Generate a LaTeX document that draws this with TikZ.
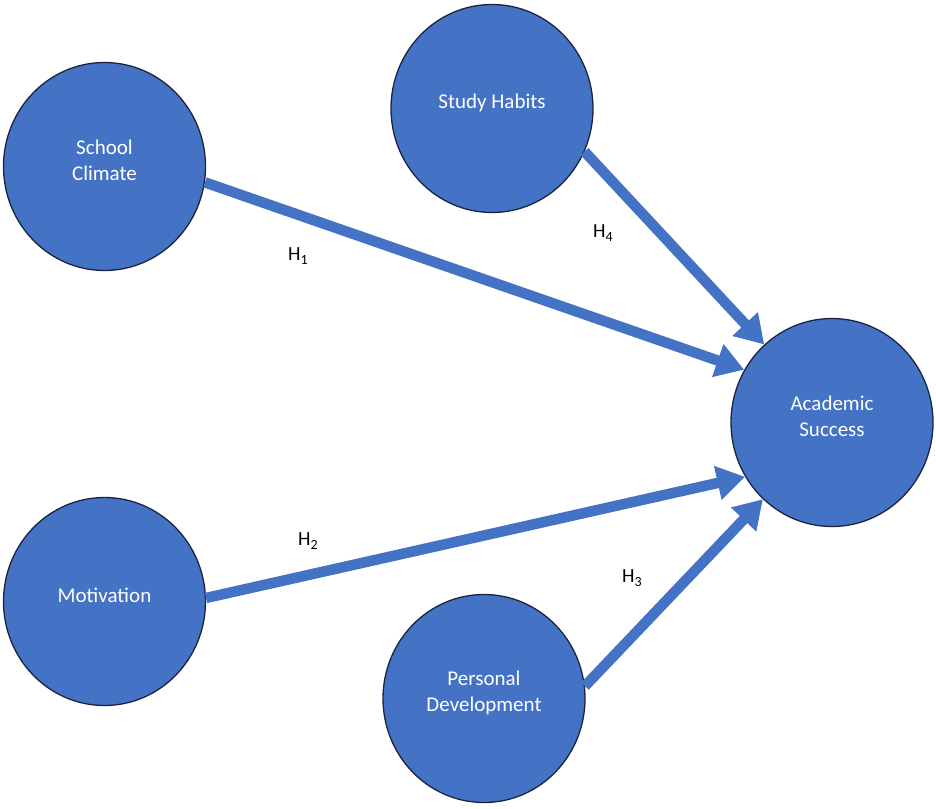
\documentclass[tikz,border=0pt]{standalone}
\usepackage{fontspec}
\setmainfont{Carlito}
\usetikzlibrary{arrows.meta,shapes.geometric}
\definecolor{fillblue}{HTML}{4472C4}
\definecolor{edgeblue}{HTML}{1A2440}
\begin{document}
\begin{tikzpicture}[x=1pt,y=-1pt,
  construct/.style={ellipse, draw=edgeblue, line width=1.3pt, fill=fillblue,
    minimum width=202pt, minimum height=208pt, inner sep=0pt},
  ctext/.style={text=white, align=center, yshift=6pt,
    font=\fontsize{21}{26}\selectfont},
  path/.style={draw=fillblue, line width=10.5pt,
    -{Triangle[length=28pt,width=33pt]}},
  hyp/.style={anchor=base west, inner sep=0pt, font=\fontsize{20}{24}\selectfont}
]
\useasboundingbox (0,0) rectangle (936,808);
\node[construct, label={[ctext]center:School\\Climate}] (sc) at (104.5,166.5) {};
\node[construct, label={[ctext]center:Study Habits}] (sh) at (492,108.5) {};
\node[construct, label={[ctext]center:Academic\\Success}] (as) at (832,422.5) {};
\node[construct, label={[ctext]center:Motivation}] (mo) at (104.5,601.5) {};
\node[construct, label={[ctext]center:Personal\\Development}] (pd) at (484,698.5) {};

\draw[path] (sc.-9) -- (as.149.5);
\draw[path] (sh.-25) -- (as.131.3);
\draw[path] (mo.2) -- (as.212.5);
\draw[path] (pd.7.6) -- (as.228.3);

\newcommand{\hsub}[1]{H\raisebox{-0.22em}{\fontsize{14}{14}\selectfont #1}}
\node[hyp] (h1) at (288,260) {\hsub{1}};
\node[hyp] (h4) at (593,237) {\hsub{4}};
\node[hyp] (h2) at (298,545) {\hsub{2}};
\node[hyp] (h3) at (622,582) {\hsub{3}};
\end{tikzpicture}
\end{document}
